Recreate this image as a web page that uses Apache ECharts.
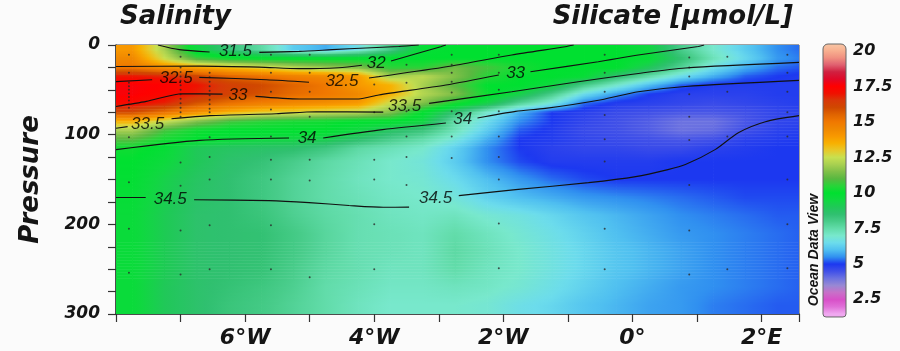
<!DOCTYPE html>
<html>
<head>
<meta charset="utf-8">
<script src="https://cdn.jsdelivr.net/npm/echarts@6/dist/echarts.min.js"></script>
<style>
  html, body { margin: 0; padding: 0; background: #fbfbfb; }
  #chart { width: 900px; height: 351px; }
</style>
</head>
<body>
<div id="chart"></div>
<script>
// ---- Section grid: silicate (µmol/L) at longitude × pressure nodes ----
const lonCenters = [-7.75, -7.25, -6.75, -6.25, -5.75, -5.25, -4.75, -4.25, -3.75, -3.25, -2.75,
                    -2.25, -1.75, -1.25, -0.75, -0.25, 0.25, 0.75, 1.25, 1.75, 2.25, 2.75];
const presCenters = [5, 15, 25, 35, 45, 55, 65, 75, 85, 95, 105, 115,
                     130, 150, 170, 190, 210, 230, 250, 270, 290];

// one row per pressure level, one value per longitude column
const silicate = [
  /*   5 */ [14.0, 12.0, 9.5, 8.3, 7.6, 6.2, 5.8, 6.6, 8.0, 9.8, 10.0, 10.0, 10.0, 10.0, 10.0, 10.0, 9.5, 8.0, 7.0, 6.2, 5.5, 5.2],
  /*  15 */ [14.5, 12.5, 10.8, 10.2, 10.0, 10.0, 10.0, 10.0, 10.0, 10.0, 10.0, 10.0, 10.0, 10.0, 10.0, 10.0, 9.8, 8.5, 7.3, 6.4, 5.6, 5.3],
  /*  25 */ [15.0, 14.3, 13.8, 13.3, 12.8, 12.2, 11.8, 11.5, 10.5, 10.5, 11.3, 10.8, 10.3, 10.0, 10.0, 10.0, 9.0, 7.8, 6.6, 5.8, 5.3, 5.1],
  /*  35 */ [17.0, 16.8, 16.2, 15.5, 15.2, 14.8, 14.5, 14.0, 12.0, 12.3, 11.5, 10.5, 10.0, 10.0, 9.8, 8.5, 7.5, 6.5, 5.8, 5.2, 5.0, 4.9],
  /*  45 */ [17.6, 17.5, 17.0, 16.3, 16.0, 15.5, 15.0, 14.0, 13.5, 12.0, 11.0, 10.0, 10.0, 9.5, 8.0, 7.0, 6.0, 5.2, 4.9, 4.9, 4.9, 4.9],
  /*  55 */ [17.6, 17.3, 16.8, 16.2, 15.8, 15.3, 15.0, 14.5, 13.5, 12.2, 11.5, 10.2, 9.3, 8.0, 6.5, 5.6, 5.0, 4.8, 4.8, 4.8, 4.9, 4.9],
  /*  65 */ [17.2, 16.8, 15.8, 15.2, 14.8, 14.5, 14.3, 14.0, 12.5, 11.5, 10.3, 9.3, 7.8, 6.8, 5.3, 4.9, 4.8, 4.7, 4.6, 4.7, 4.8, 4.9],
  /*  75 */ [16.0, 15.2, 14.3, 13.5, 13.0, 12.8, 12.5, 12.3, 11.5, 10.0, 8.5, 7.0, 5.8, 5.0, 4.8, 4.6, 4.5, 4.4, 4.4, 4.5, 4.7, 4.8],
  /*  85 */ [13.5, 12.5, 11.5, 10.8, 10.5, 10.3, 10.2, 10.0, 10.0, 9.5, 7.5, 6.5, 5.5, 5.0, 4.7, 4.5, 4.3, 4.0, 4.0, 4.4, 4.7, 4.8],
  /*  95 */ [12.0, 10.8, 10.2, 10.0, 10.0, 10.0, 10.0, 9.5, 8.8, 8.3, 7.3, 6.2, 5.2, 4.9, 4.6, 4.5, 4.3, 4.0, 4.1, 4.5, 4.8, 4.9],
  /* 105 */ [11.0, 10.3, 10.0, 9.7, 9.5, 9.4, 9.2, 8.6, 8.0, 7.5, 6.8, 5.8, 5.0, 4.9, 4.7, 4.6, 4.5, 4.4, 4.5, 4.8, 4.9, 5.0],
  /* 115 */ [10.2, 9.8, 9.0, 8.8, 8.7, 8.6, 8.2, 7.6, 7.3, 7.0, 6.3, 5.5, 5.0, 4.8, 4.7, 4.7, 4.6, 4.6, 4.8, 4.9, 5.0, 5.0],
  /* 130 */ [10.0, 9.6, 9.0, 8.6, 8.4, 8.0, 7.6, 7.3, 7.0, 6.8, 6.2, 5.5, 5.1, 4.9, 4.9, 4.9, 4.9, 5.0, 5.0, 5.0, 5.0, 5.0],
  /* 150 */ [9.9, 9.3, 8.8, 8.5, 8.2, 7.8, 7.5, 7.2, 7.0, 6.9, 6.5, 6.0, 5.6, 5.3, 5.1, 5.0, 5.0, 5.0, 5.0, 5.0, 5.0, 5.0],
  /* 170 */ [9.8, 9.2, 8.7, 8.5, 8.2, 7.8, 7.5, 7.3, 7.1, 7.0, 6.8, 6.3, 6.0, 5.8, 5.6, 5.5, 5.4, 5.3, 5.2, 5.1, 5.1, 5.1],
  /* 190 */ [9.7, 9.1, 8.6, 8.5, 8.3, 7.9, 7.6, 7.4, 7.2, 7.1, 7.2, 6.9, 6.7, 6.4, 6.1, 5.9, 5.7, 5.5, 5.4, 5.3, 5.2, 5.2],
  /* 210 */ [9.7, 9.1, 8.6, 8.5, 8.45, 8.1, 7.7, 7.4, 7.3, 7.2, 7.5, 7.2, 6.9, 6.6, 6.3, 6.0, 5.8, 5.6, 5.5, 5.4, 5.3, 5.2],
  /* 230 */ [9.7, 9.1, 8.6, 8.5, 8.45, 8.1, 7.7, 7.4, 7.3, 7.2, 7.6, 7.3, 7.0, 6.7, 6.4, 6.1, 5.9, 5.7, 5.5, 5.4, 5.3, 5.2],
  /* 250 */ [9.7, 9.1, 8.6, 8.5, 8.4, 8.0, 7.6, 7.4, 7.2, 7.2, 7.5, 7.2, 7.0, 6.7, 6.4, 6.1, 5.9, 5.7, 5.5, 5.4, 5.3, 5.2],
  /* 270 */ [9.7, 9.0, 8.6, 8.4, 8.2, 7.9, 7.5, 7.3, 7.1, 7.1, 7.2, 7.1, 6.9, 6.6, 6.3, 6.0, 5.8, 5.6, 5.5, 5.4, 5.3, 5.2],
  /* 290 */ [9.7, 9.0, 8.6, 8.3, 8.1, 7.8, 7.5, 7.2, 7.0, 7.0, 7.0, 6.9, 6.6, 6.4, 6.1, 5.9, 5.7, 5.6, 5.4, 5.3, 5.2, 5.2]
];

// ---- Salinity contours: [longitude, pressure], null = gap where the label sits ----
const salinity315 = [[-7.35, 0], [-7.02, 5.2], [-6.55, 7.8], null,
  [-5.78, 8.2], [-5.16, 7.1], [-4.65, 5.2], [-4.13, 3.3], [-3.62, 1.6], [-3.31, 0]];
const salinity32 = [[-8, 23.9], [-6.71, 23.6], [-5.78, 24.7], [-5.16, 26.4], [-4.55, 25.3], [-4.19, 22.5], null,
  [-3.74, 17.8], [-2.97, 1.9], [-2.89, 0]];
const salinity325 = [[-8, 40.9], [-7.44, 38.7], null,
  [-6.71, 36.1], [-5.67, 38.7], [-5.01, 41.5], null,
  [-4.08, 36.8], [-3.93, 35.3], [-2.80, 23.4], [-1.87, 11.1], [-1.04, 1.9], [-0.91, 0]];
const salinity33 = [[-8, 68.5], [-7.53, 62.9], [-6.97, 54.3], [-6.35, 54.8], null,
  [-5.84, 57.3], [-5.16, 60.2], [-4.24, 60.2], [-3.93, 55.7], [-2.89, 44.6], [-2.07, 33.4], null,
  [-1.58, 29.8], [-0.53, 18.6], [0.09, 11.1], [1.02, 1.6], [1.11, 0]];
const salinity335 = [[-8, 92.8], [-7.82, 91], null,
  [-7.14, 82.2], [-6.55, 78.8], [-5.52, 76.6], [-4.90, 74.4], [-3.86, 74.9], null,
  [-3.15, 65.1], [-1.87, 52.1], [-0.84, 40.9], [0.09, 31.7], [0.82, 25.6], [2.58, 19.4]];
const salinity34 = [[-8, 116.7], [-6.71, 106.4], [-5.32, 103.7], null,
  [-4.79, 103.7], [-3.87, 94.4], [-2.89, 87], null,
  [-2.40, 81.4], [-1.81, 74], [-1.35, 70.7], [-0.48, 61], [0.09, 52.1], [0.82, 46.2], [2.58, 39.5]];
const salinity345 = [[-8, 170], [-7.54, 170], null,
  [-6.79, 172.5], [-5.63, 173.6], [-5.01, 175.8], [-4.39, 179], [-3.86, 181], [-3.46, 180.8], null,
  [-2.69, 168], [-1.81, 161.3], [-0.68, 153.5], [0.05, 146.8], [0.55, 139], [0.82, 133.4],
  [1.28, 116.7], [1.64, 97.8], [2.06, 85.5], [2.58, 78.8]];

// contour labels: [longitude, pressure, salinity]
const contourLabels = [
  [-6.15, 7.5, 31.5], [-3.97, 20.5, 32],
  [-7.07, 37.6, 32.5], [-4.5, 41, 32.5],
  [-6.11, 56.6, 33], [-1.81, 31.4, 33],
  [-7.51, 88.9, 33.5], [-3.53, 68.8, 33.5],
  [-5.04, 103.7, 34], [-2.63, 83.3, 34],
  [-7.16, 172.5, 34.5], [-3.05, 171.3, 34.5]
];

// bottle samples: [longitude, pressure]
const samples = [
  [-7.8, 11], [-7.8, 31], [-7.8, 42], [-7.8, 46], [-7.8, 50], [-7.8, 54], [-7.8, 58], [-7.8, 62], [-7.8, 66], [-7.8, 70],
  [-7.8, 103], [-7.8, 153], [-7.8, 205], [-7.8, 254],
  [-7.0, 13], [-7.0, 25], [-7.0, 30], [-7.0, 35], [-7.0, 40], [-7.0, 45], [-7.0, 50], [-7.0, 55], [-7.0, 60], [-7.0, 65],
  [-7.0, 70], [-7.0, 75], [-7.0, 80], [-7.0, 131], [-7.0, 157], [-7.0, 207], [-7.0, 256],
  [-6.55, 31], [-6.55, 36], [-6.55, 41], [-6.55, 46], [-6.55, 51], [-6.55, 56], [-6.55, 61], [-6.55, 66], [-6.55, 71],
  [-6.55, 75], [-6.55, 103], [-6.55, 125], [-6.55, 150], [-6.55, 201], [-6.55, 250],
  [-5.6, 11], [-5.6, 31], [-5.6, 52], [-5.6, 72], [-5.6, 102], [-5.6, 128], [-5.6, 150], [-5.6, 201], [-5.6, 250],
  [-5.0, 11], [-5.0, 31], [-5.0, 52], [-5.0, 80], [-5.0, 102], [-5.0, 128], [-5.0, 151], [-5.0, 259],
  [-4.0, 20], [-4.0, 44], [-4.0, 75], [-4.0, 128], [-4.0, 150], [-4.0, 200], [-4.0, 250],
  [-3.5, 22], [-3.5, 42], [-3.5, 74], [-3.5, 102], [-3.5, 125], [-3.5, 156],
  [-2.8, 11], [-2.8, 22], [-2.8, 31], [-2.8, 41], [-2.8, 53], [-2.8, 74], [-2.8, 102], [-2.8, 126],
  [-2.07, 11], [-2.07, 31], [-2.07, 50], [-2.07, 74], [-2.07, 102], [-2.07, 125], [-2.07, 150], [-2.07, 199], [-2.07, 249],
  [-0.43, 11], [-0.43, 31], [-0.43, 52], [-0.43, 78], [-0.43, 105], [-0.43, 130], [-0.43, 205], [-0.43, 250],
  [0.88, 14], [0.88, 25], [0.88, 35], [0.88, 55], [0.88, 80], [0.88, 106], [0.88, 156], [0.88, 207], [0.88, 256],
  [1.47, 13], [1.47, 52], [1.47, 102], [1.47, 250],
  [2.4, 11], [2.4, 31], [2.4, 52], [2.4, 75], [2.4, 102], [2.4, 150], [2.4, 200], [2.4, 249]
];

// axis labels
const lonTicks = [-6, -4, -2, 0, 2];
const lonTickLabels = ['6°W', '4°W', '2°W', '0°', '2°E'];
const presTickLabels = [0, 100, 200, 300];
const colorbarTicks = [2.5, 5, 7.5, 10, 12.5, 15, 17.5, 20];

// ODV-style rainbow, evenly spaced from 1.0 to 20.5 µmol/L
const palette = [
  '#f8d0f8', '#f0a8f0', '#e070d8', '#d850c8', '#c870c8', '#9888d4', '#6c72e0', '#4050e8',
  '#1c38f0', '#3090f0', '#50c0f0', '#6cdcec', '#78e8cc', '#62dcaa', '#48cc8a', '#30c070',
  '#20c858', '#10d840', '#00e030', '#28d438', '#58b840', '#80c048', '#a8d050', '#c8e050',
  '#e8c828', '#f8b000', '#f89800', '#f08800', '#f07800', '#e06400', '#d04800', '#d83808',
  '#f01000', '#ff0000', '#e00828', '#d02040', '#e06070', '#f09080', '#f8b090', '#f8c8a8'
];
const scaleMin = 1.0, scaleMax = 20.5;

// ---- colour scale ----
const paletteRgb = palette.map(h => [1, 3, 5].map(k => parseInt(h.slice(k, k + 2), 16)));
function colorOf(v) {
  let t = (v - scaleMin) / (scaleMax - scaleMin) * (palette.length - 1);
  t = Math.max(0, Math.min(palette.length - 1, t));
  const k = Math.min(Math.floor(t), palette.length - 2), f = t - k;
  const a = paletteRgb[k], b = paletteRgb[k + 1];
  return 'rgb(' + [0, 1, 2].map(c => Math.round(a[c] + (b[c] - a[c]) * f)).join(',') + ')';
}

// ---- node geometry (edges of the section repeat the outermost values) ----
const nRows = presCenters.length, nCols = lonCenters.length;
const lonMin = -8, lonMax = 2.58, presMin = 0, presMax = 300;
const lonNode = j => j < 0 ? lonMin : lonCenters[Math.min(j, nCols - 1)];
const presNode = i => i < 0 ? presMin : (i >= nRows ? presMax : presCenters[i]);
const nodeValue = (i, j) => silicate[Math.max(0, Math.min(nRows - 1, i))][Math.max(0, Math.min(nCols - 1, j))];

const fieldData = [];
silicate.forEach((row, i) => row.forEach((v, j) => fieldData.push([lonCenters[j], presCenters[i], v, i, j])));

// smooth-shaded patch between four neighbouring nodes
function patch(i, j, api, clipBox, out) {
  const a = api.coord([lonNode(j), presNode(i)]);
  const b = api.coord([lonNode(j + 1), presNode(i + 1)]);
  const x0 = a[0], x1 = b[0], y0 = a[1], h = b[1] - a[1];
  if (h <= 0 || x1 <= x0) return;
  const vTL = nodeValue(i, j), vTR = nodeValue(i, j + 1);
  const vBL = nodeValue(i + 1, j), vBR = nodeValue(i + 1, j + 1);
  const n = Math.max(1, Math.round(h / 1.5));
  for (let k = 0; k < n; k++) {
    const t = (k + 0.5) / n;
    const vl = vTL + (vBL - vTL) * t, vr = vTR + (vBR - vTR) * t;
    const stops = [0, 0.25, 0.5, 0.75, 1].map(s => ({ offset: s, color: colorOf(vl + (vr - vl) * s) }));
    const shape = echarts.graphic.clipRectByRect(
      { x: x0, y: y0 + h * k / n, width: x1 - x0 + 0.6, height: h / n + 0.6 }, clipBox);
    if (!shape) continue;
    out.push({ type: 'rect', shape: shape,
      style: { fill: new echarts.graphic.LinearGradient(x0, 0, x1, 0, stops, true) } });
  }
}

function renderField(params, api) {
  const i = api.value(3), j = api.value(4);
  const cs = params.coordSys;
  const clipBox = { x: cs.x, y: cs.y, width: cs.width, height: cs.height };
  const out = [];
  if (j < nCols - 1) patch(i, j, api, clipBox, out);
  if (i === 0 && j < nCols - 1) patch(-1, j, api, clipBox, out);
  if (j === 0) patch(i, -1, api, clipBox, out);
  if (i === 0 && j === 0) patch(-1, -1, api, clipBox, out);
  return { type: 'group', children: out };
}

const textFont = 'DejaVu Sans';
const ink = '#151515';

const series = [{
  type: 'custom',
  renderItem: renderField,
  data: fieldData,
  dimensions: ['lon', 'pres', 'silicate', 'row', 'col'],
  encode: { x: 0, y: 1 },
  silent: true,
  z: 1
}];

[salinity315, salinity32, salinity325, salinity33, salinity335, salinity34, salinity345].forEach(c => {
  let seg = [];
  c.concat([null]).forEach(pt => {
    if (pt) { seg.push(pt); return; }
    if (seg.length > 1) {
      series.push({
        type: 'line', data: seg, smooth: 0.25, symbol: 'none', silent: true, z: 3,
        lineStyle: { color: '#111', width: 1.1 }
      });
    }
    seg = [];
  });
});

series.push({
  type: 'scatter', data: samples, symbolSize: 2, silent: true, z: 2,
  itemStyle: { color: '#2a2a2a' }
});

series.push({
  type: 'scatter', data: contourLabels, symbolSize: 1, silent: true, z: 4,
  itemStyle: { color: 'rgba(0,0,0,0)' },
  label: {
    show: true, position: 'inside',
    formatter: p => String(p.value[2]),
    fontFamily: 'Liberation Sans', fontStyle: 'italic', fontSize: 17, color: '#000'
  }
});

const tickFont = { fontFamily: textFont, fontStyle: 'italic', fontWeight: 'bold', color: ink };

const option = {
  backgroundColor: '#fbfbfb',
  animation: false,
  title: [
    { text: 'Salinity', left: 120, top: 4, padding: 0,
      textStyle: Object.assign({ fontSize: 26 }, tickFont) },
    { text: 'Silicate [µmol/L]', right: 107, top: 4, padding: 0,
      textStyle: Object.assign({ fontSize: 26 }, tickFont) }
  ],
  grid: [
    { left: 116, top: 45, width: 683, height: 269, show: true, borderColor: '#444', borderWidth: 1,
      backgroundColor: 'transparent', outerBoundsMode: 'none', containLabel: false },
    { left: 823, top: 44, width: 23, height: 290.7, outerBoundsMode: 'none', containLabel: false }
  ],
  xAxis: [
    { gridIndex: 0, type: 'value', min: lonMin, max: lonMax, interval: 1,
      axisLine: { show: true, onZero: false, lineStyle: { color: '#333', width: 1.5 } },
      axisTick: { show: true, length: 8, lineStyle: { color: '#333', width: 1.2 } },
      splitLine: { show: false },
      axisLabel: Object.assign({
        margin: 13, fontSize: 22,
        formatter: v => { const k = lonTicks.indexOf(Math.round(v * 100) / 100); return k < 0 ? '' : lonTickLabels[k]; }
      }, tickFont) },
    { gridIndex: 1, type: 'value', min: 0, max: 1, show: false }
  ],
  yAxis: [
    { gridIndex: 0, type: 'value', inverse: true, min: presMin, max: presMax, interval: 25,
      name: 'Pressure', nameLocation: 'middle', nameGap: 72,
      nameTextStyle: Object.assign({ fontSize: 26 }, tickFont),
      axisLine: { show: true, onZero: false, lineStyle: { color: '#333', width: 1.5 } },
      axisTick: { show: true, length: 8, lineStyle: { color: '#333', width: 1.2 } },
      splitLine: { show: false },
      axisLabel: Object.assign({
        margin: 16, fontSize: 17,
        formatter: v => presTickLabels.indexOf(v) < 0 ? '' : String(v)
      }, tickFont) },
    { gridIndex: 1, type: 'value', position: 'right', min: 0, max: 20.5, interval: 2.5,
      axisLine: { show: false }, axisTick: { show: false }, splitLine: { show: false },
      axisLabel: Object.assign({
        margin: 7, fontSize: 16,
        formatter: v => colorbarTicks.indexOf(v) < 0 ? '' : String(v)
      }, tickFont) }
  ],
  series: series
};

const chart = echarts.init(document.getElementById('chart'), null, { renderer: 'canvas' });
chart.setOption(option);

// colour bar drawn against the second axis
const barTop = chart.convertToPixel({ yAxisIndex: 1 }, 20.5);
const barBottom = chart.convertToPixel({ yAxisIndex: 1 }, 1.25);
const barStops = [];
palette.forEach((c, k) => {
  const v = scaleMin + k * (scaleMax - scaleMin) / (palette.length - 1);
  if (v >= 1.25) barStops.push({ offset: (20.5 - v) / (20.5 - 1.25), color: c });
});
barStops.reverse();

chart.setOption({
  graphic: [
    { type: 'rect', z: 10,
      shape: { x: 823, y: barTop, width: 23, height: barBottom - barTop, r: [5, 5, 3, 3] },
      style: { fill: new echarts.graphic.LinearGradient(0, 0, 0, 1, barStops), stroke: '#666', lineWidth: 1 } },
    { type: 'text', z: 10, x: 814, y: 250, rotation: Math.PI / 2,
      style: { text: 'Ocean Data View', font: 'italic bold 14px "Liberation Sans"', fill: ink,
               align: 'center', verticalAlign: 'middle', textAlign: 'center', textVerticalAlign: 'middle' } }
  ]
});
</script>
</body>
</html>
